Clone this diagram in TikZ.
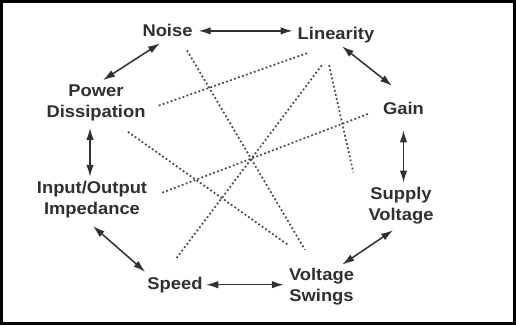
\documentclass[tikz,border=0pt]{standalone}
\usepackage{fontspec}
\newfontfamily\octfont{Liberation Sans}[FakeStretch=1.08]
\usepackage{xcolor}
\usepackage{tikz}
\usetikzlibrary{arrows.meta}
\definecolor{inkgray}{RGB}{48,48,48}
\definecolor{dotgray}{RGB}{70,70,70}
\tikzset{
    octagon/.style={font=\octfont\bfseries\fontsize{17}{21}\selectfont, text=inkgray},
    octagon box/.style={align=center, inner sep=3pt},
    octagon arrow/.style={{Latex[length=12pt,width=7.5pt]}-{Latex[length=12pt,width=7.5pt]},
        line width=1.5pt, draw=inkgray},
    octagon dots/.style={line width=1.7pt, draw=dotgray, dash pattern=on 1.8pt off 2.4pt},
}
\begin{document}
\begin{tikzpicture}[
        octagon, x=1pt, y=-1pt,
        tradeoff/.style={octagon box}
    ]
        \useasboundingbox (0,0) rectangle (516,325);
        \fill[white] (0,0) rectangle (516,325);
        \draw[line width=3pt] (1.5,1.5) rectangle (514.5,323.5);

        \node[tradeoff] (noise)  at (167.5,30.9)  {Noise};
        \node[tradeoff] (lin)    at (336,35.2)    {Linearity};
        \node[tradeoff] (power)  at (96,103.2)    {Power\\Dissipation};
        \node[tradeoff] (gain)   at (403.5,108.9) {Gain};
        \node[tradeoff] (io)     at (92,199.2)    {Input/Output\\Impedance};
        \node[tradeoff] (supply) at (401,205.2)   {Supply\\Voltage};
        \node[tradeoff] (speed)  at (175,284.7)   {Speed};
        \node[tradeoff] (swings) at (321.5,286.2) {Voltage\\Swings};

        % neighbours round the octagon
        \draw[octagon arrow, shorten <=3pt, shorten >=2pt]
            (noise.east) -- (noise.east -| lin.west);
        \draw[octagon arrow, shorten <=5.5pt, shorten >=3.3pt]
            ([xshift=-2.9pt]noise.south) -- ([xshift=4.2pt]power.north);
        \draw[octagon arrow, shorten >=22pt]
            ([xshift=6pt]lin.south) -- ([xshift=5.8pt]gain.north);
        \draw[octagon arrow, shorten <=3.4pt, shorten >=0.8pt]
            ([xshift=-6pt]power.south) -- ([xshift=-6pt]power.south |- io.north);
        \draw[octagon arrow, shorten <=12pt, shorten >=1pt]
            (gain.south) -- (gain.south |- supply.north);
        \draw[octagon arrow, shorten <=8.1pt, shorten >=2.7pt]
            ([xshift=-5.1pt]io.south) -- ([xshift=3pt]speed.north west);
        \draw[octagon arrow, shorten <=6pt]
            ([xshift=-3pt]supply.south) -- ([xshift=20.8pt]swings.north);
        \draw[octagon arrow, shorten <=0.5pt, shorten >=2pt]
            (speed.east) -- (speed.east -| swings.west);

        % trade-offs across
        \draw[octagon dots, shorten <=11.6pt, shorten >=17.2pt]
            ([xshift=13.6pt]noise.south) -- ([xshift=-7.8pt]swings.north);
        \draw[octagon dots, shorten <=20.6pt, shorten >=9.5pt]
            ([xshift=-9.6pt]lin.south) -- ([yshift=-6pt]power.east);
        \draw[octagon dots, shorten <=23.7pt, shorten >=18.5pt]
            (lin.south) -- ([xshift=-10.1pt]speed.north);
        \draw[octagon dots, shorten <=19.4pt, shorten >=11.5pt]
            ([xshift=-11.2pt]lin.south) -- ([xshift=-9.5pt]supply.north west);
        \draw[octagon dots, shorten <=12.9pt, shorten >=11.8pt]
            ([yshift=-0.5pt]gain.west) -- ([yshift=2pt]io.east);
        \draw[octagon dots, shorten <=12.8pt, shorten >=34.3pt]
            ([xshift=21.5pt]power.south) -- ([xshift=-5.5pt]swings.north);
    \end{tikzpicture}
\end{document}
